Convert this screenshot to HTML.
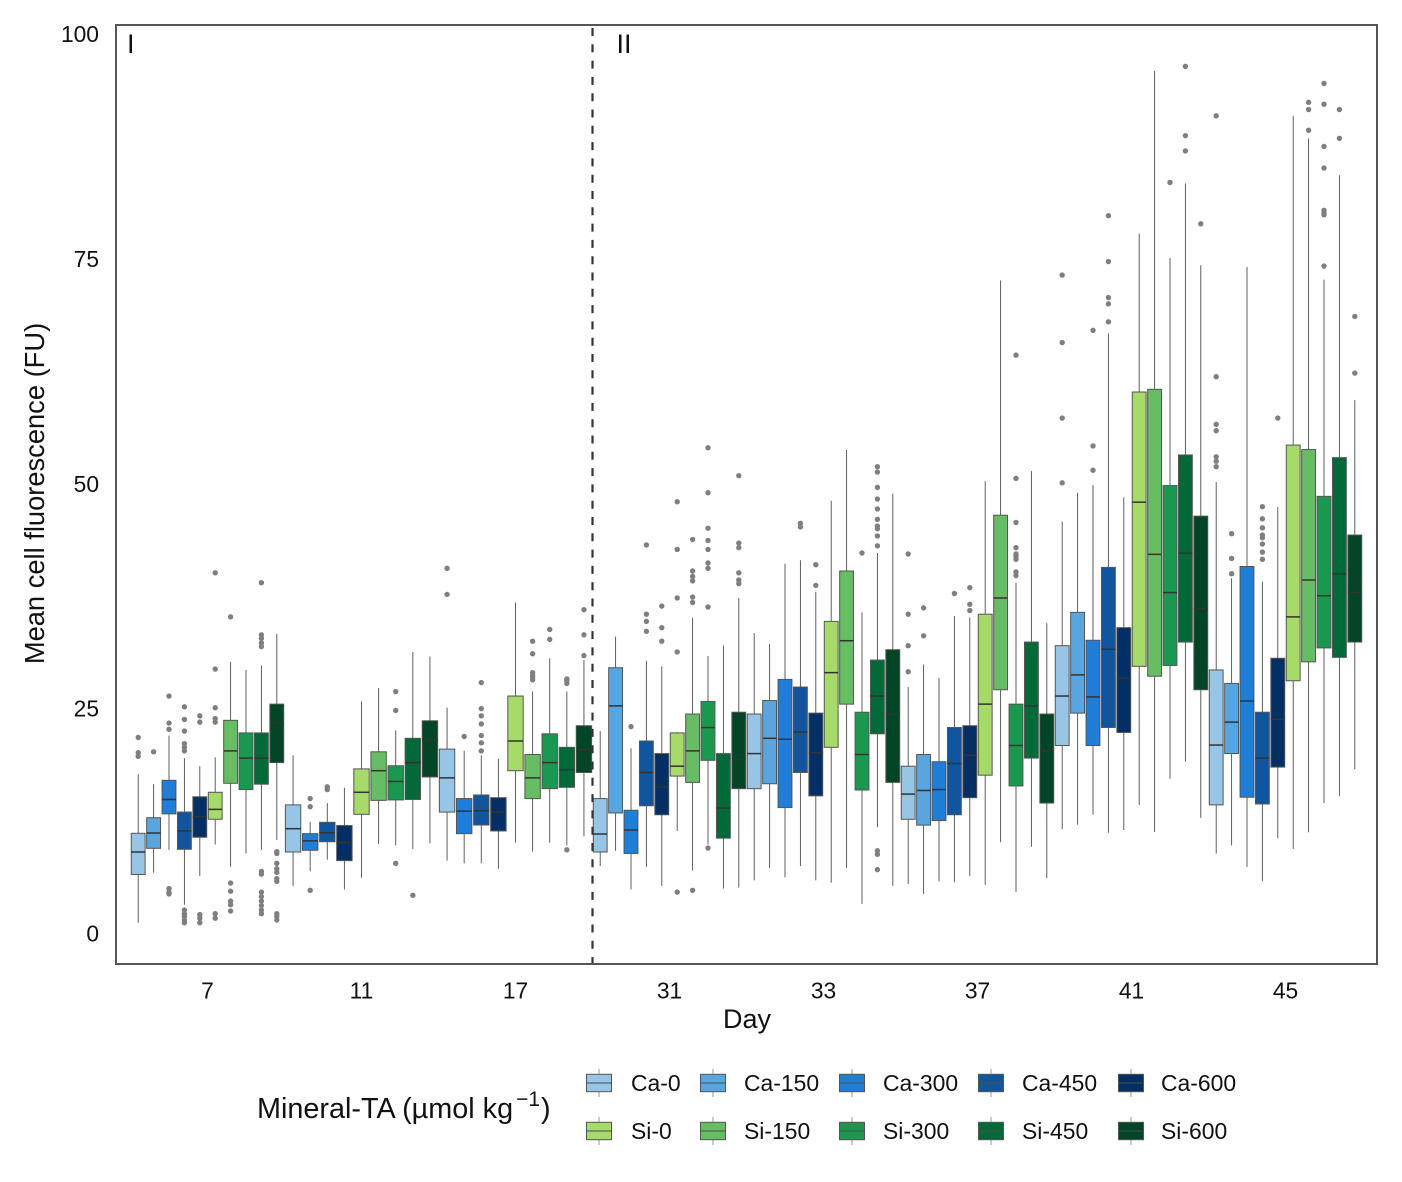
<!DOCTYPE html>
<html lang="en">
<head>
<meta charset="utf-8">
<title>Mean cell fluorescence by day</title>
<style>
  html, body { margin: 0; padding: 0; background: #ffffff; }
  #chart { display: block; width: 1402px; height: 1182px; }
  text { font-family: "Liberation Sans", Arial, sans-serif; fill: #111111; }
</style>
</head>
<body>
<svg id="chart" xmlns="http://www.w3.org/2000/svg" width="1402" height="1182" viewBox="0 0 1402 1182">
  <rect x="0" y="0" width="1402" height="1182" fill="#ffffff"></rect>
  <g id="marks"></g>
  <rect x="116" y="25" width="1261" height="939" fill="none" stroke="#555555" stroke-width="2"></rect>
  <g id="ytick-labels"></g>
  <g id="xtick-labels"></g>
  <text font-size="27.3" text-anchor="middle" transform="translate(44,493.5) rotate(-90)">Mean cell fluorescence (FU)</text>
  <text font-size="27" text-anchor="middle" x="747" y="1028">Day</text>
  <text font-size="27" x="127" y="53">I</text>
  <text font-size="27" x="616.5" y="53">II</text>
  <text font-size="28.8" x="257" y="1118">Mineral-TA (µmol kg<tspan font-size="21" dx="3" dy="-12">−1</tspan><tspan dx="1" dy="12">)</tspan></text>
  <g id="legend"></g>
</svg>
<script>
const days = ["7", "11", "17", "31", "33", "37", "41", "45"];
const treatments = ["Ca-0", "Ca-150", "Ca-300", "Ca-450", "Ca-600", "Si-0", "Si-150", "Si-300", "Si-450", "Si-600"];
const treatmentColors = ["#97c5e6", "#58a5e0", "#1f7fd8", "#10569f", "#042f64", "#a6da69", "#66bd63", "#1a9850", "#016a38", "#004526"];
const yTicks = [0, 25, 50, 75, 100];
const phaseBoundaryDay = 2.5;

const whiskerLow = [
  [1.2, 6.76, 9.3, 3.2, 6.4, 9.9, 7.4, 8.9, 9.3, 10.4],
  [5.3, null, 6.9, 8.2, 4.9, 6.2, 9.95, 9.8, 9.4, 10.0],
  [8.1, null, 7.8, 7.8, 7.2, 10.1, 9.1, 10.1, 9.8, 10.8],
  [7.5, 9.2, 4.9, 7.4, 5.3, 11.4, 7.0, 9.9, 5.0, 5.1],
  [5.9, 7.3, 6.25, 7.5, 5.9, 5.65, 7.3, 3.3, 11.8, 5.3],
  [5.5, 4.4, 5.8, 5.7, 6.4, 5.4, 10.15, 4.6, 9.65, 6.15],
  [11.6, 12.1, 13.2, 11.2, 11.5, 14.3, 11.3, 17.2, 19.1, 12.85],
  [8.9, 9.8, 7.4, 5.85, 10.6, 9.4, 11.25, 14.5, 15.3, 18.25]
];
const quartile1 = [
  [6.56, 9.47, 13.3, 9.36, 10.7, 12.7, 16.7, 16.0, 16.6, 19.0],
  [9.06, null, 9.25, 10.2, 8.1, 13.25, 14.8, 14.85, 14.9, 17.4],
  [13.5, null, 11.1, 12.06, 11.4, 18.1, 15.0, 16.1, 16.25, 17.9],
  [9.06, 13.4, 8.9, 14.2, 13.2, 17.5, 16.8, 19.25, 10.6, 16.1],
  [16.1, 16.65, 14.0, 17.9, 15.3, 20.7, 25.5, 15.95, 22.2, 16.8],
  [12.7, 12.05, 12.55, 13.2, 15.1, 17.6, 27.1, 16.4, 19.5, 14.5],
  [20.9, 24.5, 20.9, 22.9, 22.35, 29.7, 28.6, 29.8, 32.4, 27.1],
  [14.3, 20.0, 15.15, 14.4, 18.5, 28.1, 30.2, 31.75, 30.7, 32.4]
];
const medians = [
  [9.06, 11.17, 14.9, 11.4, 13.0, 13.8, 20.3, 19.5, 19.5, 23.4],
  [11.65, null, 10.3, 11.2, 10.1, 15.7, 18.1, 16.9, 19.0, 21.5],
  [17.3, null, 13.6, 13.65, 13.5, 21.4, 17.3, 19.0, 18.2, 20.4],
  [11.06, 25.3, 11.5, 17.9, 16.3, 18.6, 20.3, 22.9, 13.95, 19.4],
  [20.0, 21.7, 21.6, 22.4, 20.1, 29.0, 32.55, 19.9, 26.4, 24.4],
  [15.5, 15.9, 16.0, 18.9, 19.8, 25.5, 37.3, 20.9, 25.3, 20.3],
  [26.4, 28.75, 26.3, 31.6, 28.4, 47.95, 42.15, 37.9, 42.3, 36.15],
  [20.95, 23.5, 25.85, 19.5, 23.8, 35.2, 39.3, 37.55, 40.0, 37.9]
];
const quartile3 = [
  [11.14, 12.87, 17.03, 13.5, 15.2, 15.7, 23.7, 22.3, 22.3, 25.5],
  [14.3, null, 11.1, 12.36, 12.0, 18.3, 20.2, 18.65, 21.7, 23.65],
  [20.5, null, 15.0, 15.4, 15.1, 26.4, 19.9, 22.2, 20.7, 23.1],
  [15.0, 29.55, 13.7, 21.4, 20.0, 22.3, 24.4, 25.8, 20.0, 24.6],
  [24.4, 25.9, 28.25, 27.4, 24.5, 34.7, 40.3, 24.6, 30.4, 31.55],
  [18.6, 19.9, 19.1, 22.9, 23.1, 35.5, 46.5, 25.5, 32.4, 24.4],
  [32.0, 35.7, 32.6, 40.7, 34.0, 60.2, 60.5, 49.8, 53.2, 46.4],
  [29.3, 27.8, 40.8, 24.6, 30.6, 54.3, 53.8, 48.6, 52.9, 44.3]
];
const whiskerHigh = [
  [17.7, 16.6, 22.0, 19.5, 18.6, 19.6, 30.2, 29.3, 29.8, 33.3],
  [19.8, null, 12.4, 14.5, 16.2, 25.8, 27.3, 22.6, 31.3, 30.8],
  [25.1, null, 20.3, 19.8, 19.4, 36.8, 26.9, 30.6, 26.9, 30.4],
  [22.5, 33.0, 20.6, 30.3, 29.7, 22.4, 35.1, 30.85, 32.0, 37.3],
  [33.4, 32.2, 41.1, 41.5, 38.0, 48.1, 53.75, 35.7, 42.3, 48.9],
  [27.4, 29.9, 28.4, 35.3, 35.15, 50.3, 72.6, 39.0, 51.4, 34.5],
  [45.8, 49.0, 49.85, 66.7, 48.5, 77.8, 95.9, 75.1, 83.4, 74.3],
  [50.2, 39.5, 74.1, 39.1, 47.4, 90.9, 88.4, 72.7, 84.3, 59.3]
];
const outliers = [
  [[21.8, 20.1, 19.7], [20.2], [26.4, 23.4, 22.7, 5.0, 4.6, 4.4], [25.2, 23.8, 22.5, 21.1, 20.7, 20.3, 2.6, 2.2, 1.9, 1.5, 1.2], [24.2, 23.5, 2.1, 1.7, 1.2], [40.1, 29.4, 25.1, 23.9, 23.5, 2.2, 1.7], [35.2, 5.6, 4.7, 3.6, 3.2, 2.5], [], [39.0, 33.2, 32.8, 32.3, 31.9, 6.9, 6.6, 4.6, 4.1, 3.6, 3.1, 2.6, 2.2], [9.1, 8.9, 7.8, 7.2, 6.8, 6.1, 5.8, 2.2, 1.9, 1.5]],
  [[], [], [15.0, 14.1, 4.8], [16.3, 16.0], [], [], [], [26.9, 24.8, 7.8], [4.25], []],
  [[40.6, 37.7], [], [21.9], [27.9, 25.0, 24.2, 23.3, 22.0, 21.2, 20.3], [], [], [32.5, 31.1, 29.0, 28.7, 28.5, 28.2], [33.8, 32.7], [28.3, 28.1, 27.8, 9.3], [36.0, 33.2, 30.9]],
  [[], [], [23.0], [43.2, 35.5, 34.7, 33.6], [36.4, 34.0, 32.5], [48.0, 42.7, 37.3, 31.3, 4.6], [43.8, 40.3, 39.7, 39.2, 37.4, 36.8, 4.8], [54.0, 49.0, 45.05, 43.7, 42.7, 41.2, 40.6, 36.3, 9.5], [], [50.9, 43.4, 42.9, 40.1, 39.3, 38.9]],
  [[], [], [], [45.6, 45.2], [41.0, 38.7], [], [], [42.3], [51.9, 51.3, 49.6, 48.3, 47.2, 46.05, 45.3, 45.0, 44.2, 43.1, 9.2, 8.8, 7.1], []],
  [[42.2, 35.5, 32.0, 29.1], [36.2, 33.1], [], [37.8], [38.45, 36.6, 35.9], [], [], [64.3, 50.6, 45.7, 42.9, 42.2, 41.95, 41.6, 40.2, 39.8], [], []],
  [[73.2, 65.7, 57.3, 50.1], [], [67.05, 54.2, 51.5], [79.8, 74.7, 70.7, 70.0, 68.0], [], [], [], [83.5], [96.4, 88.7, 87.0], [78.9]],
  [[90.9, 61.9, 56.6, 55.9, 53.0, 52.5, 51.9], [44.45, 41.7, 40.0], [], [47.45, 46.1, 45.1, 44.3, 44.0, 43.3, 42.4, 41.6], [57.3], [], [92.4, 91.6, 89.3], [94.5, 92.2, 87.5, 85.1, 80.4, 80.1, 79.9, 74.2], [91.6, 88.4], [68.6, 62.3]]
];

const SVG_NS = "http://www.w3.org/2000/svg";
function yScale(value) { return 933.5 - 8.995 * value; }
function bandCenter(dayIndex) { return 207.5 + 154 * dayIndex; }
const BAND_WIDTH = 154;

function makeLine(parent, x1, y1, x2, y2, stroke, width) {
  const el = document.createElementNS(SVG_NS, "line");
  el.setAttribute("x1", x1);
  el.setAttribute("y1", y1);
  el.setAttribute("x2", x2);
  el.setAttribute("y2", y2);
  el.setAttribute("stroke", stroke);
  el.setAttribute("stroke-width", width);
  parent.appendChild(el);
  return el;
}

const marks = document.getElementById("marks");

days.forEach(function (day, d) {
  const present = treatments.map(function (t, i) { return i; }).filter(function (i) { return medians[d][i] !== null; });
  const slot = BAND_WIDTH / present.length;
  const boxWidth = slot * 0.9;
  present.forEach(function (t, s) {
    const cx = bandCenter(d) + (s - (present.length - 1) / 2) * slot;
    const group = document.createElementNS(SVG_NS, "g");
    
    
    marks.appendChild(group);

    const whisker = makeLine(group, cx, yScale(whiskerHigh[d][t]), cx, yScale(whiskerLow[d][t]), "#4d4d4d", 0.9);
    
    

    const top = yScale(quartile3[d][t]);
    const bottom = yScale(quartile1[d][t]);
    const box = document.createElementNS(SVG_NS, "rect");
    box.setAttribute("x", cx - boxWidth / 2);
    box.setAttribute("y", top);
    box.setAttribute("width", boxWidth);
    box.setAttribute("height", bottom - top);
    box.setAttribute("fill", treatmentColors[t]);
    box.setAttribute("stroke", "#555555");
    box.setAttribute("stroke-width", "1");
    
    
    group.appendChild(box);

    const my = yScale(medians[d][t]);
    const medianLine = makeLine(group, cx - boxWidth / 2, my, cx + boxWidth / 2, my, "#333333", 1.5);
    
    

    outliers[d][t].forEach(function (value) {
      const dot = document.createElementNS(SVG_NS, "circle");
      dot.setAttribute("cx", cx);
      dot.setAttribute("cy", yScale(value));
      dot.setAttribute("r", "2.7");
      dot.setAttribute("fill", "#7f7f7f");
      
      
      group.appendChild(dot);
    });
  });
});

const boundaryX = bandCenter(phaseBoundaryDay);
const boundary = makeLine(marks, boundaryX, 25, boundaryX, 964, "#333333", 2.2);
boundary.setAttribute("stroke-dasharray", "8 8.3");
boundary.setAttribute("stroke-dashoffset", "-3");



const yLabels = document.getElementById("ytick-labels");
yTicks.forEach(function (tick) {
  const label = document.createElementNS(SVG_NS, "text");
  label.setAttribute("x", "99");
  label.setAttribute("y", yScale(tick) + 8);
  label.setAttribute("font-size", "22.8");
  label.setAttribute("text-anchor", "end");
  
  
  label.textContent = tick;
  yLabels.appendChild(label);
});

const xLabels = document.getElementById("xtick-labels");
days.forEach(function (day, d) {
  const label = document.createElementNS(SVG_NS, "text");
  label.setAttribute("x", bandCenter(d));
  label.setAttribute("y", "998.5");
  label.setAttribute("font-size", "22.8");
  label.setAttribute("text-anchor", "middle");
  
  
  label.textContent = day;
  xLabels.appendChild(label);
});

const legendColumnKeys = [599, 713, 852, 991, 1131];
const legendColumnLabels = [631, 744, 883, 1022, 1161];
const legendRows = [1083, 1131];
const legend = document.getElementById("legend");
treatments.forEach(function (name, i) {
  const col = i % 5;
  const row = Math.floor(i / 5);
  const kx = legendColumnKeys[col];
  const ky = legendRows[row];
  const entry = document.createElementNS(SVG_NS, "g");
  
  
  legend.appendChild(entry);

  makeLine(entry, kx, ky - 14, kx, ky + 14, "#999999", 1);

  const key = document.createElementNS(SVG_NS, "rect");
  key.setAttribute("x", kx - 12.5);
  key.setAttribute("y", ky - 8.7);
  key.setAttribute("width", "25");
  key.setAttribute("height", "17.4");
  key.setAttribute("fill", treatmentColors[i]);
  key.setAttribute("stroke", "#555555");
  key.setAttribute("stroke-width", "1");
  
  
  entry.appendChild(key);

  makeLine(entry, kx - 12.5, ky, kx + 12.5, ky, "#4d4d4d", 1);

  const label = document.createElementNS(SVG_NS, "text");
  label.setAttribute("x", legendColumnLabels[col]);
  label.setAttribute("y", ky + 8);
  label.setAttribute("font-size", "22.9");
  
  
  label.textContent = name;
  entry.appendChild(label);
});
</script>
</body>
</html>
